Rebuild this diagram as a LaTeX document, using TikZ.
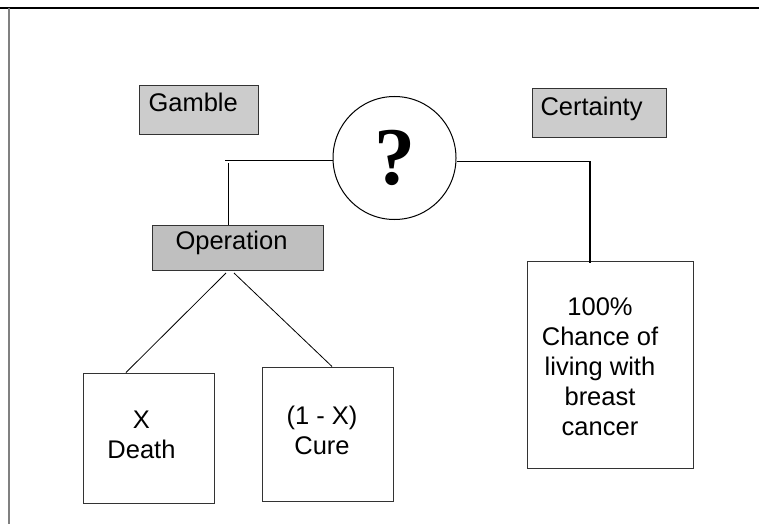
\documentclass[tikz,border=0pt]{standalone}
\usepackage{fontspec}
\setmainfont{Liberation Sans}
\newfontfamily\qfont{Liberation Serif}
\begin{document}
\begin{tikzpicture}[x=1pt,y=-1pt,line width=1pt]
  \tikzstyle{box}=[draw=black!80,inner sep=0pt]
  \tikzstyle{shaded}=[box,fill=black!20]
  \tikzstyle{txt}=[inner sep=0pt,font=\fontsize{25.5}{30}\selectfont]
  \useasboundingbox (0,0) rectangle (759,524);
  % frame
  \draw[line width=1.5pt] (0,8) -- (759,8);
  \draw[black!50,line width=2pt] (9,8) -- (9,524);

  \node[shaded,minimum width=119pt,minimum height=48pt] (gamble) at (198.5,110) {};
  \node[shaded,minimum width=134pt,minimum height=48pt] (certainty) at (599,113) {};
  \node[shaded,fill=black!25,minimum width=171pt,minimum height=45pt] (operation) at (237.5,247.5) {};
  \node[box,minimum width=131pt,minimum height=130pt] (death) at (148.5,438) {};
  \node[box,minimum width=131pt,minimum height=134pt] (cure) at (327.5,434) {};
  \node[box,minimum width=166pt,minimum height=207pt] (living) at (610,364.5) {};
  \node[circle,draw,minimum size=123pt,inner sep=0pt] (question) at (394.5,158)
    {\qfont\bfseries\fontsize{82}{82}\selectfont ?};

  \node[txt,anchor=base west] (gamble text) at (148,111) {Gamble};
  \node[txt,anchor=base west] (certainty text) at (540,115) {Certainty};
  \node[txt,anchor=base west] (operation text) at (175,249.5) {Operation};
  \node[txt,anchor=north,align=center] (death text) at (141.5,410) {X\\Death};
  \node[txt,anchor=north,align=center] (cure text) at (322,406) {(1 - X)\\Cure};
  \node[txt,anchor=north,align=center] (living text) at (600,297)
    {100\%\\Chance of\\living with\\breast\\cancer};

  \coordinate (lcorner) at (225,160);
  \coordinate (ltop) at (228,163);
  \coordinate (rcorner) at (590,161);
  \coordinate (opl) at (226,273);
  \coordinate (opr) at (234,273);
  \draw (lcorner -| question.west) -- (lcorner);
  \draw (ltop) -- (ltop |- operation.north);
  \draw (rcorner -| question.east) -- (rcorner);
  \draw[line width=2pt] (rcorner) -- ([yshift=-2pt]rcorner |- living.north);
  \draw[line width=0.8pt] (opl) -- ([xshift=-22.5pt]death.north);
  \draw[line width=0.8pt] (opr) -- ([xshift=4.5pt]cure.north);
\end{tikzpicture}
\end{document}
